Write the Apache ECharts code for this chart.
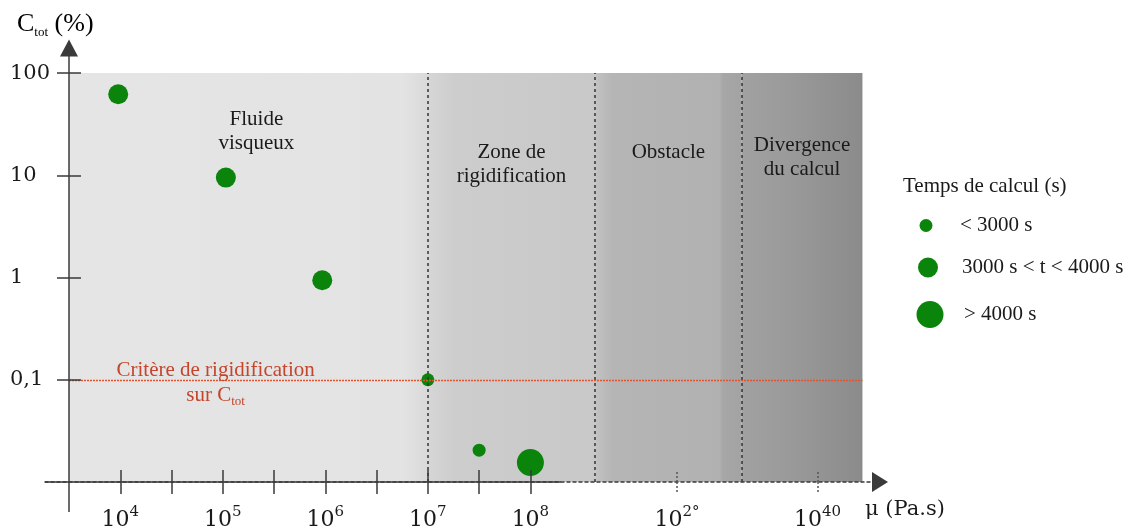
<!DOCTYPE html>
<html>
<head>
<meta charset="utf-8">
<script src="https://cdn.jsdelivr.net/npm/echarts@6/dist/echarts.min.js"></script>
<style>
html, body { margin: 0; padding: 0; background: #ffffff; }
#chart { width: 1140px; height: 529px; }
</style>
</head>
<body>
<div id="chart"></div>
<script>
// Simulations: viscosity exponent (log10 of mu, Pa.s) and total concentration C_tot (%)
const muExp = [3.98, 5.03, 5.97, 7.0, 7.5, 8.0];
const cTot = [62, 9.5, 0.94, 0.1, 0.0205, 0.0155];
// computation time class of each run (index into timeNames)
const timeClass = [1, 1, 1, 0, 0, 2];
const timeNames = ['< 3000 s', '3000 s < t < 4000 s', '> 4000 s'];
const timeSizes = [13, 20, 27];

// x axis: ticks every half decade up to 10^8, then two far labels
const tickExp = [4, 4.5, 5, 5.5, 6, 6.5, 7, 7.5, 8];
const labelExp = [4, 5, 6, 7, 8, 20, 40];
const labelSup = ['4', '5', '6', '7', '8', '2\u00b0', '40'];
const farTickExp = [20, 40];

// regimes along the viscosity axis (edges as exponents)
const zoneEdges = [3.5, 7, 13.3, 29.2, 46.4];
const zoneNames = ['Fluide\nvisqueux', 'Zone de\nrigidification', 'Obstacle', 'Divergence\ndu calcul'];

// y axis (log) ticks and labels
const yTicks = [0.1, 1, 10, 100];
const yTickLabels = ['0,1', '1', '10', '100'];
const criterion = 0.1;

// compressed viscosity scale: linear in exponent up to 10^8, squeezed beyond;
// the origin (10^3.5) sits at 0 so the C_tot axis stands there
const scaleExp = [3.5, 8, 20, 40, 60];
const scalePos = [0, 4.5, 5.93, 7.3, 8.67];
function pos(e) {
  let i = 0;
  while (i < scaleExp.length - 2 && e > scaleExp[i + 1]) i++;
  const t = (e - scaleExp[i]) / (scaleExp[i + 1] - scaleExp[i]);
  return scalePos[i] + t * (scalePos[i + 1] - scalePos[i]);
}

const xStartExp = 3.266;   // axis line starts a little left of the origin
const xSolidEndExp = 10.5; // solid part of the axis, dotted afterwards
const xEndExp = 48.9;
const xMin = pos(xStartExp);
const xMax = pos(xEndExp);
const yMin = 0.01;
const yMax = Math.pow(10, 2.245);
const axisColor = '#3a3a3a';
const textColor = '#1a1a1a';
const criterionColor = '#c4452c';
const serif = 'Liberation Serif';
const numFont = 'DejaVu Serif';

const zoneFills = [
  [[0, '#e5e5e5'], [0.93, '#e3e3e3'], [1, '#d9d9d9']],
  [[0, '#d6d6d6'], [0.16, '#cdcdcd'], [1, '#c8c8c8']],
  [[0, '#c2c2c2'], [0.12, '#b5b5b5'], [0.85, '#b1b1b1'], [0.87, '#a7a7a7'], [1, '#a3a3a3']],
  [[0, '#a1a1a1'], [0.35, '#9b9b9b'], [1, '#8b8b8b']]
];
const zoneLabelStyle = [
  { distance: 34, offset: [8, 0] },
  { distance: 67, offset: [0, 0] },
  { distance: 67, offset: [0, 0] },
  { distance: 60, offset: [0, 0] }
];

function grad(stops) {
  return new echarts.graphic.LinearGradient(0, 0, 1, 0,
    stops.map(s => ({ offset: s[0], color: s[1] })));
}

const zoneAreas = zoneNames.map((name, i) => [
  {
    name: name,
    xAxis: pos(zoneEdges[i]), yAxis: yMin,
    itemStyle: { color: grad(zoneFills[i]) },
    label: {
      show: true, position: 'insideTop',
      distance: zoneLabelStyle[i].distance, offset: zoneLabelStyle[i].offset,
      fontFamily: serif, fontSize: 21, lineHeight: 24, color: textColor, align: 'center'
    }
  },
  { xAxis: pos(zoneEdges[i + 1]), yAxis: 100 }
]);

const separators = zoneEdges.slice(1, 4).map(e => [
  { coord: [pos(e), yMin] },
  { coord: [pos(e), 100] }
]);

const pointSeries = timeNames.map((name, c) => ({
  name: name,
  type: 'scatter',
  z: 3,
  symbol: 'circle',
  symbolSize: timeSizes[c],
  itemStyle: { color: '#0b840b', opacity: 1 },
  data: muExp.map((e, i) => timeClass[i] === c ? [pos(e), cTot[i]] : null).filter(d => d)
}));

const legendCenterX = [926, 928, 930];
const legendTops = [215, 257, 301];
const legends = timeNames.map((name, c) => ({
  data: [{ name: name, icon: 'circle' }],
  left: legendCenterX[c] - timeSizes[c] / 2, top: legendTops[c], padding: 0,
  itemWidth: 50, itemHeight: timeSizes[c],
  selectedMode: false,
  textStyle: { fontFamily: serif, fontSize: 21, color: textColor, padding: [0, 0, 0, 4] }
}));

function xAxisBase(extra) {
  return Object.assign({
    type: 'value', min: xMin, max: xMax, position: 'bottom', z: 5,
    splitLine: { show: false },
    axisLine: { show: false, onZero: false },
    axisLabel: { show: false }
  }, extra);
}

const solidTick = { color: axisColor, width: 1.5 };
const dottedTick = { color: '#555', width: 1.5, type: [2, 2] };

const option = {
  animation: false,
  backgroundColor: '#ffffff',
  grid: { left: 45, right: 260, top: 48, bottom: 47, containLabel: false, outerBoundsMode: 'none' },
  title: {
    text: 'Temps de calcul (s)', left: 903, top: 176, padding: 0,
    textStyle: { fontFamily: serif, fontSize: 21, fontWeight: 'normal', color: textColor }
  },
  legend: legends,
  graphic: [
    {
      type: 'text', left: 17, top: 11, z: 10,
      style: {
        text: '{c|C}{s|tot}{c| (%)}',
        rich: {
          c: { fontFamily: serif, fontSize: 26, color: textColor, lineHeight: 30, verticalAlign: 'middle' },
          s: { fontFamily: serif, fontSize: 13, color: textColor, lineHeight: 13, verticalAlign: 'bottom' }
        }
      }
    },
    {
      type: 'text', left: 865, top: 499, z: 10,
      style: { text: '\u03bc (Pa.s)', fontFamily: numFont, fontSize: 21, fill: textColor }
    }
  ],
  xAxis: [
    xAxisBase({
      axisLine: {
        show: true, onZero: false,
        lineStyle: { color: axisColor, width: 1.5, type: [3, 3] },
        symbol: ['none', 'triangle'], symbolSize: [20, 16]
      },
      axisTick: { show: true, customValues: tickExp.map(pos), length: 12, lineStyle: solidTick },
      axisLabel: {
        show: true, margin: 23,
        customValues: labelExp.map(pos),
        formatter: function (v) {
          const i = labelExp.findIndex(e => Math.abs(pos(e) - v) < 1e-6);
          return i < 0 ? '' : '{b|10}{s|' + labelSup[i] + '}';
        },
        rich: {
          b: { fontFamily: numFont, fontSize: 22, color: textColor, lineHeight: 26, verticalAlign: 'bottom' },
          s: { fontFamily: numFont, fontSize: 15, color: textColor, lineHeight: 15, verticalAlign: 'top' }
        }
      }
    }),
    xAxisBase({
      axisTick: { show: true, inside: true, customValues: tickExp.map(pos), length: 12, lineStyle: solidTick }
    }),
    xAxisBase({
      axisTick: { show: true, customValues: farTickExp.map(pos), length: 12, lineStyle: dottedTick }
    }),
    xAxisBase({
      axisTick: { show: true, inside: true, customValues: farTickExp.map(pos), length: 12, lineStyle: dottedTick }
    }),
    // C_tot axis continues below the origin
    xAxisBase({
      axisTick: { show: true, customValues: [pos(zoneEdges[0])], length: 30, lineStyle: solidTick }
    })
  ],
  yAxis: [
    {
      type: 'log', logBase: 10, min: yMin, max: yMax, position: 'left', z: 5,
      splitLine: { show: false },
      axisLine: {
        show: true, onZero: true, onZeroAxisIndex: 0,
        lineStyle: { color: axisColor, width: 1.5 },
        symbol: ['none', 'triangle'], symbolSize: [18, 17]
      },
      axisTick: { show: true, customValues: yTicks, length: 12, lineStyle: solidTick },
      axisLabel: {
        show: true, customValues: yTicks, align: 'left', margin: 35,
        fontFamily: numFont, fontSize: 21, color: textColor,
        formatter: function (v) {
          const i = yTicks.findIndex(t => Math.abs(Math.log10(t) - Math.log10(v)) < 1e-6);
          return i < 0 ? '' : yTickLabels[i];
        }
      }
    },
    {
      type: 'log', logBase: 10, min: yMin, max: yMax, position: 'left', z: 5,
      splitLine: { show: false },
      axisLine: { show: false, onZero: true, onZeroAxisIndex: 0 },
      axisTick: { show: true, inside: true, customValues: yTicks, length: 12, lineStyle: solidTick },
      axisLabel: { show: false }
    }
  ],
  series: [
    {
      name: 'zones',
      type: 'scatter',
      z: 1,
      clip: false,
      silent: true,
      data: [],
      markArea: { silent: true, data: zoneAreas },
      markLine: {
        silent: true, symbol: 'none',
        label: { show: false },
        lineStyle: { color: '#333', width: 1.5, type: [3, 3] },
        data: separators
      }
    },
    {
      name: 'criterion',
      type: 'scatter',
      z: 2,
      clip: false,
      silent: true,
      data: [],
      markLine: {
        silent: true, symbol: 'none',
        label: { show: false },
        emphasis: { disabled: true },
        lineStyle: { color: '#e2542f', width: 1.3, type: [2, 1], opacity: 1 },
        data: [[
          { coord: [pos(zoneEdges[0]), criterion] },
          { coord: [pos(zoneEdges[4]), criterion] }
        ]]
      },
      markPoint: {
        silent: true,
        symbol: 'circle', symbolSize: 1,
        itemStyle: { color: 'rgba(0,0,0,0)' },
        data: [{
          coord: [pos(4.93), criterion],
          label: {
            show: true, position: 'inside', offset: [0, 3],
            formatter: '{t|Crit\u00e8re de rigidification}\n{t|sur C}{s|tot}',
            rich: {
              t: { fontFamily: serif, fontSize: 21, color: criterionColor, lineHeight: 25, verticalAlign: 'middle' },
              s: { fontFamily: serif, fontSize: 13, color: criterionColor, lineHeight: 12, verticalAlign: 'bottom' }
            }
          }
        }]
      }
    },
    {
      name: 'axes',
      type: 'scatter',
      z: 6,
      clip: false,
      silent: true,
      data: [],
      markLine: {
        silent: true, symbol: 'none',
        label: { show: false },
        lineStyle: { color: axisColor, width: 1.5, type: 'solid' },
        data: [
          [{ coord: [xMin, yMin] }, { coord: [pos(xSolidEndExp), yMin] }]
        ]
      }
    }
  ].concat(pointSeries)
};

const chart = echarts.init(document.getElementById('chart'), null, { renderer: 'canvas' });
chart.setOption(option);
</script>
</body>
</html>
